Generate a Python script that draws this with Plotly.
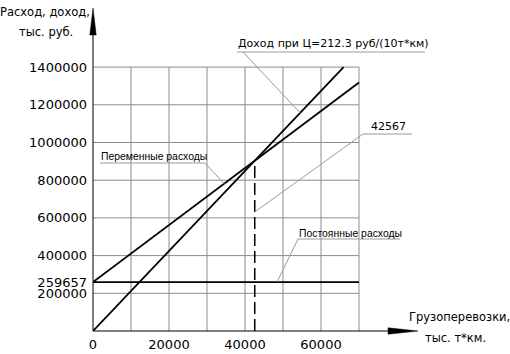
import plotly.graph_objects as go

# ---------------- data ----------------
fixed_costs = 259657                 # постоянные расходы
price_per_unit = 21.23               # 212.3 руб/(10т*км)
breakeven_x = 42567                  # точка безубыточности, тыс. т*км
x_grid = [10000, 20000, 30000, 40000, 50000, 60000, 70000]
y_grid = [200000, 400000, 600000, 800000, 1000000, 1200000, 1400000]
x_ticks = [0, 20000, 40000, 60000]
y_ticks = [200000, 259657, 400000, 600000, 800000, 1000000, 1200000, 1400000]
fixed_x = [0, 70000]
fixed_y = [fixed_costs, fixed_costs]
cost_x = [0, 70000]
cost_y = [fixed_costs, 1318800]
revenue_x = [0, 65944]
revenue_y = [0, 1400000]
breakeven_y = price_per_unit * breakeven_x

# ---------------- layout geometry ----------------
W, H = 510, 354
L, R, T, B = 93, 5, 5, 23
pw, ph = W - L - R, H - T - B
x_max = pw / 38 * 10000
y_max = ph / 37.7 * 200000


def px_x(p):      # pixel -> paper
    return (p - L) / pw


def px_y(p):
    return (H - B - p) / ph


def dx(v):        # data -> paper
    return v / x_max


def dy(v):
    return v / y_max


fig = go.Figure()

shapes = []
grid_style = dict(color="#8c8c8c", width=1)
for gx in x_grid:
    shapes.append(dict(type="line", xref="x", yref="y", x0=gx, x1=gx,
                       y0=0, y1=y_grid[-1], line=grid_style, layer="below"))
for gy in y_grid:
    shapes.append(dict(type="line", xref="x", yref="y", x0=0, x1=x_grid[-1],
                       y0=gy, y1=gy, line=grid_style, layer="below"))

P = dict(xref="paper", yref="paper")
# axes with arrows
ax_style = dict(color="black", width=1)
shapes.append(dict(type="line", **P, x0=0, x1=0, y0=0, y1=px_y(30), line=ax_style))
shapes.append(dict(type="line", **P, x0=0, x1=px_x(395), y0=0, y1=0, line=ax_style))
shapes.append(dict(type="path", **P,
                   path=f"M {px_x(93)},{px_y(8)} L {px_x(89.8)},{px_y(35)} L {px_x(96.2)},{px_y(35)} Z",
                   fillcolor="black", line=dict(color="black", width=0.5)))
shapes.append(dict(type="path", **P,
                   path=f"M {px_x(418)},{px_y(331)} L {px_x(388)},{px_y(327.8)} L {px_x(388)},{px_y(334.2)} Z",
                   fillcolor="black", line=dict(color="black", width=0.5)))

# break-even dashed line
shapes.append(dict(type="line", xref="x", yref="y", x0=breakeven_x, x1=breakeven_x,
                   y0=0, y1=breakeven_y,
                   line=dict(color="black", width=1.5, dash="12px,5px")))

# leader lines and underlines
lead = dict(color="#9a9a9a", width=1)
under = dict(color="#9a9a9a", width=1)
rev_pt_x = 54500
cost_pt_x = 34500
fix_pt_x = 48421
be_pt_y = 631300
slope_c = (cost_y[1] - cost_y[0]) / (cost_x[1] - cost_x[0])
# Доход
shapes.append(dict(type="line", **P, x0=px_x(237), x1=px_x(425),
                   y0=px_y(52), y1=px_y(52), line=under))
shapes.append(dict(type="line", **P, x0=px_x(243), y0=px_y(52),
                   x1=dx(rev_pt_x), y1=dy(price_per_unit * rev_pt_x), line=lead))
# 42567
shapes.append(dict(type="line", **P, x0=px_x(363), x1=px_x(412),
                   y0=px_y(134), y1=px_y(134), line=under))
shapes.append(dict(type="line", **P, x0=px_x(363), y0=px_y(134),
                   x1=dx(breakeven_x), y1=dy(be_pt_y), line=lead))
# Переменные
shapes.append(dict(type="line", **P, x0=px_x(100), x1=px_x(205),
                   y0=px_y(163), y1=px_y(163), line=under))
shapes.append(dict(type="line", **P, x0=px_x(205), y0=px_y(163),
                   x1=dx(cost_pt_x), y1=dy(fixed_costs + slope_c * cost_pt_x), line=lead))
# Постоянные
shapes.append(dict(type="line", **P, x0=px_x(298), x1=px_x(400),
                   y0=px_y(239), y1=px_y(239), line=under))
shapes.append(dict(type="line", **P, x0=px_x(298), y0=px_y(239),
                   x1=dx(fix_pt_x), y1=dy(fixed_costs), line=lead))

line_style = dict(color="black", width=1.8)
fig.add_trace(go.Scatter(x=fixed_x, y=fixed_y, mode="lines", line=line_style,
                         hoverinfo="skip"))
fig.add_trace(go.Scatter(x=cost_x, y=cost_y, mode="lines", line=line_style,
                         hoverinfo="skip"))
fig.add_trace(go.Scatter(x=revenue_x, y=revenue_y, mode="lines", line=line_style,
                         hoverinfo="skip"))

ann = []
f_main = dict(family="DejaVu Sans", size=11, color="black")
f_title = dict(family="DejaVu Sans", size=11.5, color="black")
f_narrow = dict(family="Liberation Sans", size=10.4, color="black")


def add_text(text, x_px, y_px, font, xanchor="left"):
    ann.append(dict(text=text, xref="paper", yref="paper", x=px_x(x_px), y=px_y(y_px),
                    xanchor=xanchor, yanchor="middle", showarrow=False, font=font))


add_text("Доход при Ц=212.3 руб/(10т*км)", 236, 44, f_main)
add_text(f"{breakeven_x}", 369, 127, f_main)
add_text("Переменные расходы", 99, 156, f_narrow)
add_text("Постоянные расходы", 297, 233, f_narrow)
add_text("Грузоперевозки,", 459, 317, f_title, xanchor="center")
add_text("тыс. т*км.", 455, 338, f_title, xanchor="center")
add_text("Расход, доход,", 45, 12, f_title, xanchor="center")
add_text("тыс. руб.", 46, 32, f_title, xanchor="center")

fig.update_layout(
    width=W, height=H,
    margin=dict(l=L, r=R, t=T, b=B, pad=0, autoexpand=False),
    plot_bgcolor="white", paper_bgcolor="white",
    showlegend=False,
    shapes=shapes,
    annotations=ann,
    xaxis=dict(range=[0, x_max], showgrid=False, zeroline=False, showline=False,
               automargin=False,
               tickvals=x_ticks, tickformat="d", ticks="", ticklabelstandoff=4,
               tickfont=dict(family="DejaVu Sans", size=13, color="black")),
    yaxis=dict(range=[0, y_max], showgrid=False, zeroline=False, showline=False,
               automargin=False,
               tickvals=y_ticks, tickformat="d", ticks="", ticklabelstandoff=5,
               tickfont=dict(family="DejaVu Sans", size=13, color="black")),
)

fig.write_html("out.html")
